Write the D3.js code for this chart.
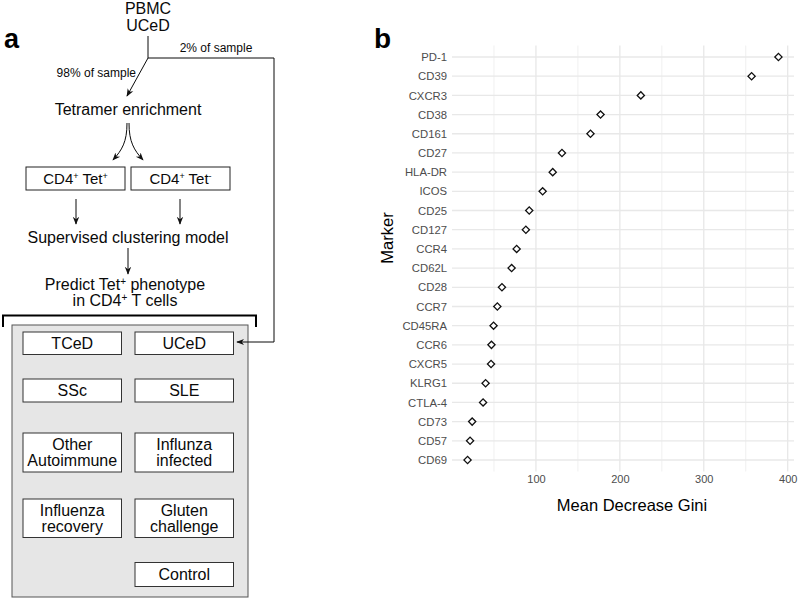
<!DOCTYPE html>
<html>
<head>
<meta charset="utf-8">
<script src="https://cdn.jsdelivr.net/npm/d3@7"></script>
<style>
  html, body { margin: 0; padding: 0; background: #ffffff; }
  svg { display: block; font-family: "Liberation Sans", Arial, Helvetica, sans-serif; }
</style>
</head>
<body>
<script>
// ---------------- data ----------------
const markers = ["PD-1","CD39","CXCR3","CD38","CD161","CD27","HLA-DR","ICOS","CD25","CD127","CCR4","CD62L","CD28","CCR7","CD45RA","CCR6","CXCR5","KLRG1","CTLA-4","CD73","CD57","CD69"];
const giniValues = [389, 357, 225, 177, 165, 131, 120, 108, 92, 88, 77, 71, 59.5, 54, 49.5, 47, 46.5, 40, 37, 24, 21.5, 18.5];
const xTickValues = [100, 200, 300, 400];
const xMinorValues = [50, 150, 250, 350];
const cohortLabels = [
  ["TCeD"], ["UCeD"],
  ["SSc"], ["SLE"],
  ["Other", "Autoimmune"], ["Influnza", "infected"],
  ["Influenza", "recovery"], ["Gluten", "challenge"],
  ["Control"]
];
const cohortCols = [0, 1, 0, 1, 0, 1, 0, 1, 1];
const cohortRows = [0, 0, 1, 1, 2, 2, 3, 3, 4];

const W = 800, H = 601;
const svg = d3.select("body").append("svg").attr("width", W).attr("height", H);

const defs = svg.append("defs");
defs.append("marker")
  .attr("id", "arr").attr("viewBox", "0 0 10 10")
  .attr("refX", 9).attr("refY", 5)
  .attr("markerWidth", 8).attr("markerHeight", 8)
  .attr("markerUnits", "userSpaceOnUse")
  .attr("orient", "auto")
  .append("path").attr("d", "M0,1 L10,5 L0,9 L3,5 Z").attr("fill", "#111");

// ---------------- panel a ----------------
const A = svg.append("g");
const ink = "#0a0a0a";
const line = (x1, y1, x2, y2, arrow) => {
  const l = A.append("line").attr("x1", x1).attr("y1", y1).attr("x2", x2).attr("y2", y2)
    .attr("stroke", ink).attr("stroke-width", 1);
  if (arrow) l.attr("marker-end", "url(#arr)");
  return l;
};
const txt = (x, y, s, size, anchor) => A.append("text").attr("x", x).attr("y", y)
  .attr("font-size", size).attr("text-anchor", anchor || "middle").attr("fill", ink).text(s);

A.append("text").attr("x", 4).attr("y", 48).attr("font-size", 27).attr("font-weight", "bold").attr("fill", "#000").text("a");

txt(148, 14, "PBMC", 16);
txt(148, 31, "UCeD", 16);
line(148, 36, 148, 58);
line(148, 58, 274, 58);
line(274, 58, 274, 342);
txt(216, 52, "2% of sample", 12);
line(148, 58, 127, 96, true);
txt(136, 77, "98% of sample", 12, "end");
txt(128, 115, "Tetramer enrichment", 16);

A.append("path").attr("d", "M127,123 C127,142 122,150 113,160").attr("fill", "none")
  .attr("stroke", ink).attr("marker-end", "url(#arr)");
A.append("path").attr("d", "M129,123 C129,142 134,150 143,160").attr("fill", "none")
  .attr("stroke", ink).attr("marker-end", "url(#arr)");

const tetBoxes = [{x: 26, sup: "+"}, {x: 131, sup: "-"}];
tetBoxes.forEach(b => {
  A.append("rect").attr("x", b.x).attr("y", 167).attr("width", 99).attr("height", 23)
    .attr("fill", "#fff").attr("stroke", "#222").attr("stroke-width", 1);
  const t = A.append("text").attr("x", b.x + 49.5).attr("y", 184).attr("font-size", 15)
    .attr("text-anchor", "middle").attr("fill", ink);
  t.append("tspan").text("CD4");
  t.append("tspan").attr("font-size", 9).attr("dy", -5).text("+");
  t.append("tspan").attr("dy", 5).text(" Tet");
  t.append("tspan").attr("font-size", 9).attr("dy", -5).text(b.sup);
});
line(76, 199, 76, 224, true);
line(180, 199, 180, 224, true);
txt(128, 243, "Supervised clustering model", 16);
line(128, 248, 128, 274, true);

const p1 = A.append("text").attr("x", 125).attr("y", 290).attr("font-size", 16)
  .attr("text-anchor", "middle").attr("fill", ink);
p1.append("tspan").text("Predict Tet");
p1.append("tspan").attr("font-size", 10).attr("dy", -5).text("+");
p1.append("tspan").attr("dy", 5).text(" phenotype");
const p2 = A.append("text").attr("x", 125).attr("y", 306).attr("font-size", 16)
  .attr("text-anchor", "middle").attr("fill", ink);
p2.append("tspan").text("in CD4");
p2.append("tspan").attr("font-size", 10).attr("dy", -5).text("+");
p2.append("tspan").attr("dy", 5).text(" T cells");

A.append("rect").attr("x", 12).attr("y", 325).attr("width", 236).attr("height", 272)
  .attr("fill", "#e6e6e6").attr("stroke", "#555").attr("stroke-width", 1);
A.append("path").attr("d", "M3,327 V315.5 H256 V327").attr("fill", "none")
  .attr("stroke", "#000").attr("stroke-width", 2);

const colX = [23, 135];
const boxW = 98.5;
const rowTop = [332, 379, 433, 499, 562.5];
const rowH = [22.5, 23, 39, 38.5, 24];
cohortLabels.forEach((lines, i) => {
  const x = colX[cohortCols[i]], r = cohortRows[i];
  const y = rowTop[r], h = rowH[r];
  A.append("rect").attr("x", x).attr("y", y).attr("width", boxW).attr("height", h)
    .attr("fill", "#fff").attr("stroke", "#333").attr("stroke-width", 1);
  const n = lines.length;
  lines.forEach((s, k) => {
    txt(x + boxW / 2, y + h / 2 + 5.5 + (k - (n - 1) / 2) * 16, s, 16);
  });
});
// arrow into the UCeD box, drawn above the grey panel
line(274, 342, 237, 342, true);

// ---------------- panel b ----------------
const B = svg.append("g");
B.append("text").attr("x", 374).attr("y", 48).attr("font-size", 28).attr("font-weight", "bold").attr("fill", "#000").text("b");

const ext = d3.extent(giniValues);
const pad = (ext[1] - ext[0]) * 0.05;
const xs = d3.scaleLinear().domain([ext[0] - pad, ext[1] + pad]).range([452, 794]);
const ys = d3.scalePoint().domain(markers).range([57, 460]);
const panelTop = 45.5, panelBottom = 471.5;

const grid = B.append("g");
grid.selectAll("line.minor").data(xMinorValues).join("line")
  .attr("x1", d => xs(d)).attr("x2", d => xs(d)).attr("y1", panelTop).attr("y2", panelBottom)
  .attr("stroke", "#ececec").attr("stroke-width", 0.8);
grid.append("g").selectAll("line").data(markers).join("line")
  .attr("x1", xs.range()[0]).attr("x2", xs.range()[1]).attr("y1", d => ys(d)).attr("y2", d => ys(d))
  .attr("stroke", "#e8e8e8").attr("stroke-width", 1.3);
grid.append("g").selectAll("line").data(xTickValues).join("line")
  .attr("x1", d => xs(d)).attr("x2", d => xs(d)).attr("y1", panelTop).attr("y2", panelBottom)
  .attr("stroke", "#e8e8e8").attr("stroke-width", 1.3);

const yAxis = d3.axisLeft(ys).tickSize(0).tickPadding(5);
const gy = B.append("g").attr("transform", `translate(${xs.range()[0]},0)`).call(yAxis);
gy.select(".domain").remove();
gy.selectAll("text").attr("font-size", 11.3).attr("fill", "#4d4d4d")
  .attr("font-family", "'Liberation Sans', Arial, sans-serif");

const xAxis = d3.axisBottom(xs).tickValues(xTickValues).tickSize(0).tickPadding(4);
const gx = B.append("g").attr("transform", `translate(0,${panelBottom})`).call(xAxis);
gx.select(".domain").remove();
gx.selectAll("text").attr("font-size", 11).attr("fill", "#4d4d4d")
  .attr("font-family", "'Liberation Sans', Arial, sans-serif");

const diamond = d3.symbol().type(d3.symbolSquare).size(26);
B.append("g").selectAll("path").data(markers).join("path")
  .attr("d", diamond)
  .attr("transform", (d, i) => `translate(${xs(giniValues[i])},${ys(d)}) rotate(45)`)
  .attr("fill", "#fff").attr("stroke", "#111").attr("stroke-width", 1.3);

B.append("text").attr("x", 632).attr("y", 511).attr("font-size", 16.5).attr("text-anchor", "middle")
  .attr("fill", "#000").text("Mean Decrease Gini");
B.append("text").attr("transform", "translate(393,238) rotate(-90)").attr("font-size", 16.5)
  .attr("text-anchor", "middle").attr("fill", "#000").text("Marker");
</script>
</body>
</html>
